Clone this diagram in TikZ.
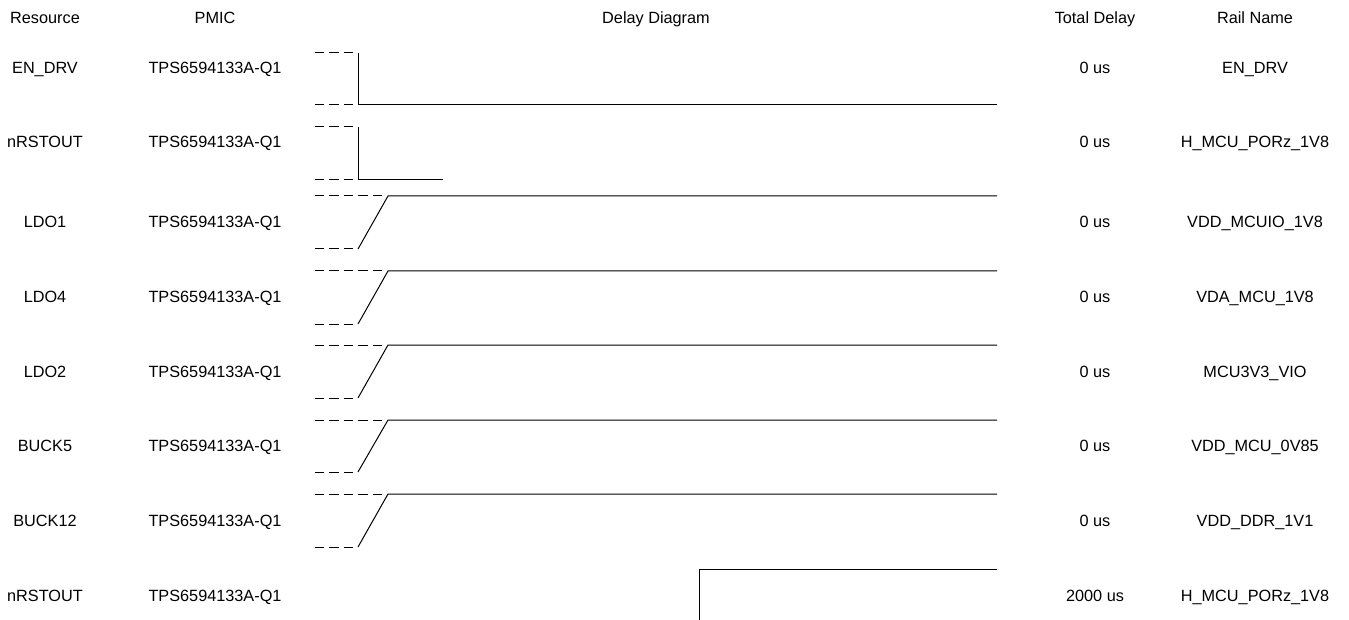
\documentclass[tikz,border=0pt]{standalone}
\usepackage{fontspec}
\setmainfont{Liberation Sans}
\usetikzlibrary{positioning}

\begin{document}
\begin{tikzpicture}[
    x=0.75pt, y=-0.75pt,
    lbl/.style={font=\fontsize{12.2}{14}\selectfont, inner sep=0pt,
                text height=8.8pt, text depth=2.6pt, yshift=-1.2pt},
    wave/.style={line width=0.75pt},
    guide/.style={line width=0.75pt, dash pattern=on 7pt off 3.8pt}
  ]
  \useasboundingbox (0,0) rectangle (1349,620);

  % column headers
  \node[lbl] (hres)  at (45,18)   {Resource};
  \node[lbl] (hpmic) at (215,18)  {PMIC};
  \node[lbl] (hdiag) at (656,18)  {Delay Diagram};
  \node[lbl] (htot)  at (1095,18) {Total Delay};
  \node[lbl] (hrail) at (1255,18) {Rail Name};

  % table rows
  \foreach \y/\res/\dly/\rail [count=\i] in {
      68/EN\_DRV/0/EN\_DRV,
      142/nRSTOUT/0/H\_MCU\_PORz\_1V8,
      222/LDO1/0/VDD\_MCUIO\_1V8,
      297/LDO4/0/VDA\_MCU\_1V8,
      372/LDO2/0/MCU3V3\_VIO,
      446/BUCK5/0/VDD\_MCU\_0V85,
      521/BUCK12/0/VDD\_DDR\_1V1,
      596/nRSTOUT/2000/H\_MCU\_PORz\_1V8} {
    \node[lbl] (res\i)  at (45,\y)   {\res};
    \node[lbl] (pmic\i) at (215,\y)  {TPS6594133A-Q1};
    \node[lbl] (dly\i)  at (1095,\y) {\dly{} us};
    \node[lbl] (rail\i) at (1255,\y) {\rail};
  }

  % step waveforms (EN_DRV, nRSTOUT)
  \foreach \hi/\lo/\xend [count=\i] in {53/105/997, 127/180/443} {
    \coordinate (sh\i) at (358,\hi);
    \coordinate (sl\i) at (358,\lo);
    \draw[guide] (315,\hi) -- (357,\hi);
    \draw[guide] (315,\lo) -- (357,\lo);
    \draw[wave] (sh\i) -- (sl\i) -- (\xend,\lo);
  }

  % ramp waveforms (LDO1 ... BUCK12)
  \foreach \hi/\lo [count=\i] in {196/249, 271/324, 345/398, 420/472, 494/547} {
    \coordinate (rl\i) at (358,\lo);
    \coordinate (rh\i) at (388,\hi);
    \draw[guide] (315,\hi) -- (386,\hi);
    \draw[guide] (315,\lo) -- (357,\lo);
    \draw[wave] (rl\i) -- (rh\i) -- (997,\hi);
  }

  % delayed nRSTOUT
  \coordinate (dlo) at (699,620);
  \coordinate (dhi) at (699,569);
  \draw[wave] (dlo) -- (dhi) -- (997,569);
\end{tikzpicture}
\end{document}
